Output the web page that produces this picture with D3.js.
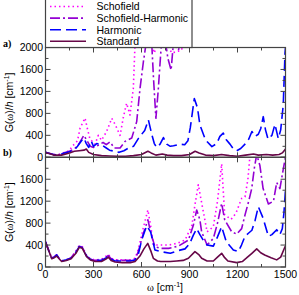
<!DOCTYPE html>
<html>
<head>
<meta charset="utf-8">
<script src="https://cdn.jsdelivr.net/npm/d3@7"></script>
<style>
body { margin: 0; background: #fff; }
svg { display: block; font-family: "Liberation Sans", Arial, sans-serif; }
</style>
</head>
<body>
<div id="chart"></div>
<script>
// series names, colours and dash styles (legend order)
const seriesNames = ["Schofield", "Schofield-Harmonic", "Harmonic", "Standard"];
const xTicks = [0, 300, 600, 900, 1200, 1500];
const yTicksA = [0, 400, 800, 1200, 1600, 2000];
const yTicksB = [0, 400, 800, 1200, 1600];

// panel a) values, [omega, G/h]
const schofieldA = [[0,90],[25,70],[50,50],[80,45],[110,80],[150,120],[164,190],[200,300],[216,530],[247,715],[262,520],[278,330],[310,240],[330,400],[350,310],[382,470],[414,710],[435,600],[466,400],[487,735],[507,985],[528,770],[549,1260],[560,2100],[600,2600],[660,2100],[680,1900],[700,2100],[760,2050],[790,1900],[850,1950],[880,2300],[1000,2700],[1500,2700]];
const schHarmA = [[0,90],[25,70],[50,50],[80,45],[110,80],[150,110],[180,150],[210,250],[240,400],[260,300],[280,200],[300,180],[330,220],[360,270],[380,230],[403,280],[430,170],[466,170],[497,290],[539,350],[570,650],[591,1260],[612,1745],[630,2100],[660,2300],[675,1440],[690,710],[705,1240],[725,2100],[745,2200],[765,1800],[785,1590],[800,2100],[830,1950],[850,2100],[880,2500],[1000,2700],[1500,2700]];
const harmonicA = [[0,90],[25,70],[50,50],[80,40],[110,70],[150,100],[180,130],[200,200],[225,300],[240,350],[255,250],[270,180],[285,300],[300,200],[320,250],[350,230],[380,170],[400,130],[430,110],[460,90],[490,120],[520,170],[550,200],[580,340],[620,490],[643,680],[664,420],[680,250],[695,180],[716,240],[737,360],[758,240],[780,200],[800,210],[840,240],[870,230],[890,300],[905,540],[930,1070],[950,900],[965,590],[1000,315],[1040,195],[1070,250],[1090,380],[1111,440],[1130,320],[1153,240],[1175,150],[1195,120],[1220,160],[1247,240],[1270,330],[1290,470],[1310,380],[1330,420],[1345,520],[1361,740],[1375,500],[1391,330],[1415,400],[1434,600],[1455,340],[1470,500],[1486,955],[1497,1900],[1500,2000]];
const standardA = [[0,80],[25,70],[50,40],[100,40],[150,80],[180,110],[210,120],[240,130],[255,150],[270,90],[300,50],[350,30],[400,25],[450,20],[500,20],[550,30],[600,50],[640,110],[660,80],[690,40],[730,60],[760,40],[800,30],[850,30],[900,50],[935,110],[960,80],[1000,40],[1050,30],[1100,50],[1150,30],[1200,20],[1250,40],[1300,60],[1330,40],[1380,50],[1420,40],[1460,50],[1480,80],[1500,150]];

// panel b)
const schofieldB = [[0,460],[20,300],[39,160],[55,190],[70,220],[85,160],[101,110],[130,130],[160,170],[190,290],[211,390],[230,370],[257,210],[280,150],[310,130],[350,140],[380,200],[393,230],[410,160],[435,130],[480,130],[530,130],[560,160],[580,320],[610,700],[640,1040],[660,700],[674,400],[720,400],[770,400],[820,430],[872,490],[915,760],[935,1150],[955,1500],[976,1170],[1010,640],[1049,735],[1075,1200],[1101,1880],[1120,950],[1160,870],[1190,980],[1226,1250],[1247,1280],[1265,1600],[1280,2100],[1320,2600],[1500,2600]];
const schHarmB = [[0,460],[20,300],[39,160],[55,190],[70,220],[85,160],[101,110],[130,130],[160,170],[190,280],[211,380],[230,360],[257,200],[280,140],[310,120],[350,130],[380,180],[393,210],[410,150],[435,120],[480,120],[530,120],[560,140],[580,280],[610,600],[640,860],[660,600],[684,370],[720,340],[770,340],[830,380],[893,490],[924,760],[945,1040],[965,860],[976,640],[1010,400],[1049,520],[1075,800],[1101,1160],[1120,860],[1164,640],[1195,600],[1226,700],[1247,950],[1270,1200],[1289,1430],[1305,1800],[1320,2050],[1340,1850],[1360,1430],[1393,1150],[1425,1200],[1445,1540],[1465,1430],[1490,1850],[1500,2000]];
const harmonicB = [[0,460],[20,300],[39,160],[55,180],[70,220],[85,160],[101,110],[130,130],[160,160],[190,270],[211,370],[230,350],[257,200],[280,140],[310,120],[350,120],[380,170],[393,200],[410,140],[435,110],[480,110],[530,110],[560,130],[580,230],[601,490],[632,750],[657,640],[684,310],[720,280],[780,250],[830,300],[872,330],[900,420],[924,580],[945,700],[965,590],[986,490],[1010,400],[1049,380],[1075,550],[1101,735],[1130,460],[1174,310],[1205,280],[1225,400],[1247,560],[1270,620],[1290,670],[1310,850],[1330,1100],[1360,890],[1393,560],[1415,590],[1445,680],[1465,590],[1480,700],[1490,980],[1500,1400]];
const standardB = [[0,450],[20,300],[39,150],[55,170],[70,200],[85,150],[101,100],[130,120],[160,150],[190,250],[211,360],[230,340],[257,190],[280,130],[310,100],[350,100],[380,150],[393,180],[410,120],[435,90],[480,80],[530,80],[560,100],[590,200],[615,330],[639,430],[660,280],[674,158],[700,110],[720,100],[780,100],[820,110],[860,120],[893,160],[934,280],[960,220],[976,160],[1010,110],[1049,110],[1075,180],[1101,250],[1120,170],[1140,110],[1195,80],[1230,100],[1255,160],[1290,250],[1320,330],[1345,260],[1370,220],[1410,170],[1445,130],[1470,180],[1497,370],[1500,380]];

const colors = ["#ff00ff", "#9400d3", "#0000ff", "#670748"];
const dashes = ["1.5,3", "10,3,2,3", "11,5", null];
const widths = [1.6, 1.6, 1.6, 1.6];

const left = 45.5, right = 285.5;
const topA = 47.5, mid = 157.3, botB = 267;

const svg = d3.select("#chart").append("svg")
    .attr("width", 299)
    .attr("height", 295);

const xscale = d3.scaleLinear().domain([0, 1500]).range([left, right]);

function drawPanel(id, y0, y1, data, yTicks, tag){
    const yscale = d3.scaleLinear().domain([0, 2000]).range([y1, y0]);

    svg.append("clipPath").attr("id", "clip" + id)
        .append("rect")
        .attr("x", left).attr("y", y0)
        .attr("width", right - left).attr("height", y1 - y0);

    const line = d3.line()
        .x(function(d) {return xscale(d[0]);})
        .y(function(d) {return yscale(d[1]);});

    const g = svg.append("g").attr("clip-path", "url(#clip" + id + ")");
    data.forEach(function(s, i){
        g.append("path")
            .attr("d", line(s))
            .attr("fill", "none")
            .attr("stroke", colors[i])
            .attr("stroke-width", widths[i])
            .attr("stroke-dasharray", dashes[i])
            .attr("stroke-linejoin", "round");
    });

    // frame
    svg.append("rect")
        .attr("x", left).attr("y", y0)
        .attr("width", right - left).attr("height", y1 - y0)
        .attr("fill", "none")
        .attr("stroke", "#444")
        .attr("stroke-width", 1.2);

    // inward ticks on all four sides
    const xt = d3.range(0, 1501, 150);
    xt.forEach(function(v){
        const len = (v % 300 == 0) ? 5 : 3;
        svg.append("line").attr("x1", xscale(v)).attr("x2", xscale(v))
            .attr("y1", y1).attr("y2", y1 - len).attr("stroke", "#444");
        svg.append("line").attr("x1", xscale(v)).attr("x2", xscale(v))
            .attr("y1", y0).attr("y2", y0 + len).attr("stroke", "#444");
    });
    const yt = d3.range(0, 2001, 200);
    yt.forEach(function(v){
        const len = (v % 400 == 0) ? 5 : 3;
        svg.append("line").attr("x1", left).attr("x2", left + len)
            .attr("y1", yscale(v)).attr("y2", yscale(v)).attr("stroke", "#444");
        svg.append("line").attr("x1", right).attr("x2", right - len)
            .attr("y1", yscale(v)).attr("y2", yscale(v)).attr("stroke", "#444");
    });

    svg.selectAll(".yl" + id)
        .data(yTicks)
        .enter()
        .append("text")
        .attr("x", left - 2.5)
        .attr("y", function(d) {return yscale(d) + 3.6;})
        .attr("text-anchor", "end")
        .attr("font-size", "10.5px")
        .text(function(d) {return d;});

    // y title
    const ty = svg.append("text")
        .attr("transform", "translate(13," + ((y0 + y1) / 2) + ") rotate(-90)")
        .attr("text-anchor", "middle")
        .attr("font-size", "10.5px");
    ty.append("tspan").text("G(");
    ty.append("tspan").attr("font-family", "Liberation Serif").text("ω");
    ty.append("tspan").text(")/");
    ty.append("tspan").attr("font-style", "italic").text("h");
    ty.append("tspan").text(" [cm");
    ty.append("tspan").attr("font-size", "7px").attr("dy", -4).text("-1");
    ty.append("tspan").attr("dy", 4).text("]");

    svg.append("text")
        .attr("x", 3).attr("y", y0 - 1)
        .attr("font-family", "Liberation Serif")
        .attr("font-weight", "bold")
        .attr("font-size", "10px")
        .text(tag);
}

drawPanel("a", topA, mid, [schofieldA, schHarmA, harmonicA, standardA], yTicksA, "a)");
drawPanel("b", mid, botB, [schofieldB, schHarmB, harmonicB, standardB], yTicksB, "b)");

// x tick labels
svg.selectAll(".xl")
    .data(xTicks)
    .enter()
    .append("text")
    .attr("x", function(d) {return xscale(d);})
    .attr("y", botB + 11)
    .attr("text-anchor", "middle")
    .attr("font-size", "10.5px")
    .text(function(d) {return d;});

const tx = svg.append("text")
    .attr("x", 165).attr("y", 291)
    .attr("text-anchor", "middle")
    .attr("font-size", "10.5px");
tx.append("tspan").attr("font-family", "Liberation Serif").text("ω");
tx.append("tspan").text(" [cm");
tx.append("tspan").attr("font-size", "7px").attr("dy", -4).text("-1");
tx.append("tspan").attr("dy", 4).text("]");

// legend
svg.append("rect")
    .attr("x", left).attr("y", -1)
    .attr("width", 146.5).attr("height", topA + 1)
    .attr("fill", "#fff")
    .attr("stroke", "#444")
    .attr("stroke-width", 1.2);

seriesNames.forEach(function(name, i){
    const yy = 6.5 + i * 11.6;
    svg.append("line")
        .attr("x1", 50).attr("x2", 86)
        .attr("y1", yy).attr("y2", yy)
        .attr("stroke", colors[i])
        .attr("stroke-width", widths[i])
        .attr("stroke-dasharray", dashes[i]);
    svg.append("text")
        .attr("x", 96.5).attr("y", yy + 3.8)
        .attr("font-size", "10.5px")
        .text(name);
});
</script>
</body>
</html>
